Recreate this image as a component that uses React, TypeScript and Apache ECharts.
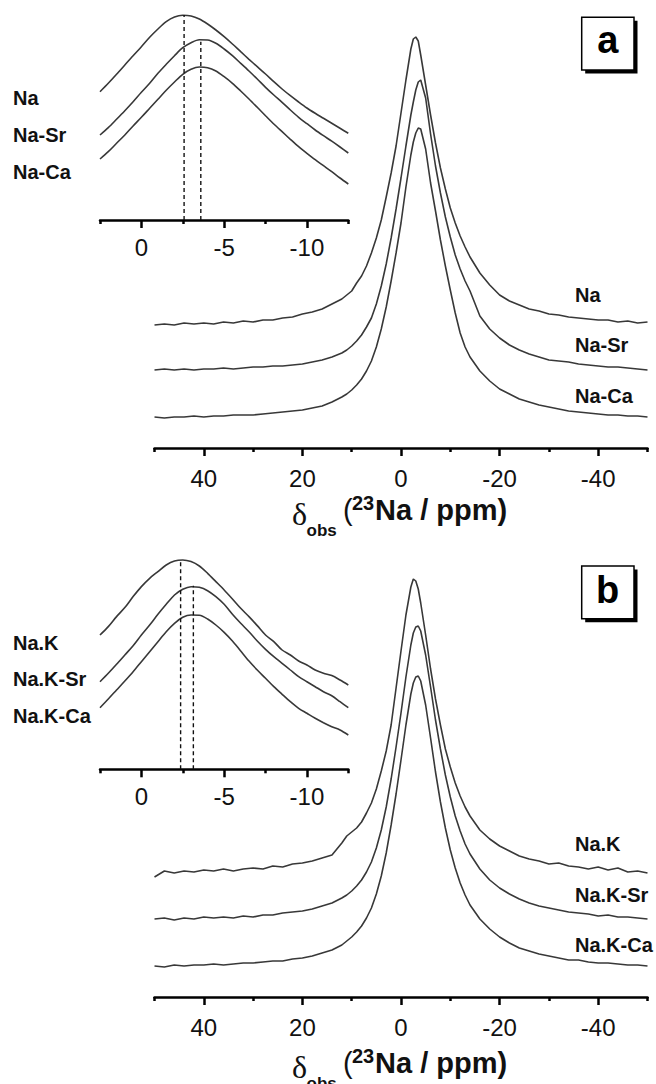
import React, { useEffect, useRef } from "react";
import * as echarts from "echarts";

// chemical shift positions (ppm) of the main spectra
const XM = [50,48,46,44,42,40,38,36,34,32,30,28,26,24,22,20,18,16,14,12,11,10,9,8,7,6,5,4,3,2,1,0,-1,-2,-2.5,-3,-3.5,-4,-5,-6,-7,-8,-9,-10,-11,-12,-13,-14,-16,-18,-20,-22,-24,-26,-28,-30,-32,-34,-36,-38,-40,-42,-44,-46,-48,-50];

// panel a intensities (above each baseline)
const NA = [-2,-1,-2,0,-1,0,-1,1,0,2,1,3,3,5,6,9,11,14,19,24,28,32,40,47,57,70,85,103,126,150,177,210,243,274,284,286,282,268,238,208,180,155,134,115,100,87,76,66,50,38,28,22,18,14,12,9,8,6,5,4,3,3,1,2,0,1];
const NA_SR = [0,1,0,1,0,1,1,2,1,2,3,3,4,4,5,6,8,10,13,17,20,24,29,35,43,52,66,84,106,132,161,192,224,255,268,280,288,290,272,236,204,177,153,133,115,101,89,79,54,41,32,25,20,16,13,10,9,8,6,5,4,3,3,2,1,0];
const NA_CA = [0,-1,0,0,1,0,1,1,2,2,2,3,4,5,6,7,9,11,15,20,23,27,32,38,46,56,70,88,110,136,164,194,230,262,275,284,289,288,268,234,206,177,151,127,104,84,70,60,46,36,28,23,18,15,12,10,8,6,5,4,3,2,2,1,1,0];
// panel b intensities
const NAK = [-4,2,0,2,1,3,2,4,2,4,5,4,7,6,9,10,12,15,18,30,37,41,45,51,60,70,84,102,122,148,185,222,258,286,294,292,284,270,238,204,174,148,124,106,90,77,66,57,43,34,27,22,17,14,12,9,10,7,6,4,6,3,5,1,2,0];
const NAK_SR = [0,1,-1,1,0,2,1,2,1,3,2,4,4,6,7,8,10,13,16,21,24,28,33,39,47,57,71,89,112,140,172,206,242,274,286,292,293,288,264,232,199,170,144,122,103,88,75,65,50,39,31,25,20,16,13,11,9,7,6,5,3,4,2,2,1,0];
const NAK_CA = [0,-1,1,0,1,1,2,1,2,3,3,4,5,5,7,8,10,13,16,21,25,29,34,40,48,58,72,90,113,141,172,206,241,272,283,289,290,285,261,228,194,164,138,116,98,83,71,61,47,37,29,23,18,15,12,10,8,6,6,4,3,3,2,1,1,0];

// baselines of the stacked spectra
const OFFSETS_A = [125, 78, 31];
const OFFSETS_B = [124, 78, 31];
const NAMES_A = ["Na", "Na-Sr", "Na-Ca"];
const NAMES_B = ["Na.K", "Na.K-Sr", "Na.K-Ca"];

// inset (expanded peak region)
const XI = [2.5,2,1.5,1,0.5,0,-0.5,-1,-1.5,-2,-2.5,-3,-3.5,-4,-4.5,-5,-5.5,-6,-6.5,-7,-7.5,-8,-8.5,-9,-9.5,-10,-10.5,-11,-11.5,-12,-12.5];
const IA_NA = [128.3,136.7,145.7,155,164.3,173.3,182.7,191,198.3,203,204.7,204,201,196,190,183.3,176,168.3,160.7,153.3,146,138.3,131,124.3,118,112,106.7,101.7,96.7,91.7,86.7];
const IA_SR = [85,92.3,100.7,109.3,118.3,127.7,136.7,146.7,155.7,164.3,172.3,177.3,180.3,180,176.7,171,164.3,156.7,149,141,132.7,125,117.7,110,102.7,96.3,90,84.3,78.8,73,67];
const IA_CA = [61,68.3,76.7,85,94,102.7,111.7,120.7,129.7,138,145.7,150.7,153,152.3,149,143.3,136.7,129,121,112.7,104.3,96,88.3,80.7,73.3,66.7,60.3,54.3,48.3,42,36];
const IB_K = [134.3,142.7,152.7,161.7,172.7,182.7,191,197.7,204.3,208.3,209.3,207.7,203.3,196,187.7,179.3,170.3,161,152.7,143.7,134.3,127.7,119.3,114.3,108.3,104.3,99.3,96,93.7,89.3,84.3];
const IB_SR = [87.6,96,105,114.3,123.6,134.3,144.3,155,165,174.3,180,182.6,182,178.6,172.6,165,155,146,137.6,128.3,120,112.6,106,99.3,92.6,87.6,82.6,77.6,73.6,67.6,61.6];
const IB_CA = [61.6,70.3,79.3,88.3,97.6,107.6,117.6,127.6,137.6,146,152,154.3,154,150.3,144.3,137,128.3,118.3,108.3,99.3,91,82.6,75,67.6,61,56,51,46.6,42.6,39.3,34.3];

// peak markers in insets: [ppm, top]
const MARK_A = [[-2.58, 205], [-3.59, 178.3]];
const MARK_B = [[-2.37, 209], [-3.14, 183.6]];

// axis ticks
const MAIN_MAJOR = [40, 20, 0, -20, -40];
const MAIN_MINOR = [50, 30, 10, -10, -30, -50];
const INSET_MAJOR = [0, -5, -10];
const INSET_MINOR = [2.5, -2.5, -7.5, -12.5];

const FONT = "Liberation Sans, Arial, sans-serif";
const LINE = "#383838";

function majorAxis(gridIndex: number, min: number, max: number, majors: number[], lw: number, tickLen: number, margin: number) {
  return {
    type: "value", gridIndex, min, max, inverse: true, position: "bottom",
    axisLine: { show: true, onZero: false, lineStyle: { color: "#000", width: lw } },
    axisTick: { show: true, customValues: majors, length: tickLen, lineStyle: { color: "#000", width: lw } },
    axisLabel: { show: true, customValues: majors, margin, fontSize: 24, fontFamily: FONT, color: "#111", formatter: (v: number) => String(v) },
    splitLine: { show: false },
  };
}
function minorAxis(gridIndex: number, min: number, max: number, minors: number[], lw: number, tickLen: number) {
  return {
    type: "value", gridIndex, min, max, inverse: true, position: "bottom",
    axisLine: { show: false, onZero: false },
    axisTick: { show: true, customValues: minors, length: tickLen, lineStyle: { color: "#000", width: lw } },
    axisLabel: { show: false },
    splitLine: { show: false },
  };
}

function spec(xIdx: number, yIdx: number, xs: number[], ys: number[], offset: number, smooth: number | boolean) {
  return {
    type: "line", xAxisIndex: xIdx, yAxisIndex: yIdx, silent: true, symbol: "none", smooth,
    lineStyle: { color: LINE, width: 1.6 },
    data: xs.map((x, i) => [x, offset + ys[i]]),
  };
}
function dash(xIdx: number, yIdx: number, m: number[]) {
  return {
    type: "line", xAxisIndex: xIdx, yAxisIndex: yIdx, silent: true, symbol: "none",
    lineStyle: { color: "#111", width: 1.4, type: [4, 3] },
    data: [[m[0], 0], [m[0], m[1]]],
  };
}

function label(text: string, x: number, y: number, size = 20) {
  return { type: "text", x, y, style: { text, fill: "#111", font: `bold ${size}px ${FONT}`, verticalAlign: "middle", align: "left" } };
}

function box(letter: string, x: number, y: number, ty: number) {
  return [
    { type: "rect", shape: { x: x + 3.5, y: y + 3.5, width: 52.3, height: 52.7 }, style: { fill: "#000" } },
    { type: "rect", shape: { x, y, width: 52.3, height: 52.7 }, style: { fill: "#fff", stroke: "#000", lineWidth: 1.5 } },
    { type: "text", x: x + 26, y: ty, style: { text: letter, fill: "#000", font: `bold 38px ${FONT}`, align: "center", verticalAlign: "middle" } },
  ];
}

function title(dy: number) {
  return [
    { type: "text", x: 292, y: 514 + dy, style: { text: "δ", fill: "#111", font: `32px Liberation Serif, serif`, verticalAlign: "middle" } },
    { type: "text", x: 306.5, y: 530 + dy, style: { text: "obs", fill: "#111", font: `bold 17px ${FONT}`, verticalAlign: "middle" } },
    { type: "text", x: 343, y: 510 + dy, style: { text: "(", fill: "#111", font: `29px ${FONT}`, verticalAlign: "middle" } },
    { type: "text", x: 352, y: 503 + dy, style: { text: "23", fill: "#111", font: `bold 20px ${FONT}`, verticalAlign: "middle" } },
    { type: "text", x: 375, y: 510 + dy, style: { text: "Na / ppm)", fill: "#111", font: `bold 29px ${FONT}`, verticalAlign: "middle" } },
  ];
}

export default function App() {
  const ref = useRef<HTMLDivElement>(null);
  useEffect(() => {
    const chart = echarts.init(ref.current!, null, { renderer: "svg" });
    const option: any = {
      animation: false,
      backgroundColor: "#fff",
      grid: [
        { left: 154.5, top: 0, width: 493, height: 448 },
        { left: 100, top: 0, width: 248.3, height: 220 },
        { left: 154.5, top: 549, width: 493, height: 448 },
        { left: 100, top: 549.3, width: 248.3, height: 220 },
      ],
      xAxis: [
        majorAxis(0, -50, 50, MAIN_MAJOR, 2.5, 8, 18),
        minorAxis(0, -50, 50, MAIN_MINOR, 2.5, 4),
        majorAxis(1, -12.5, 2.5, INSET_MAJOR, 2.5, 8, 15),
        minorAxis(1, -12.5, 2.5, INSET_MINOR, 2.5, 4),
        majorAxis(2, -50, 50, MAIN_MAJOR, 2.5, 8, 18),
        minorAxis(2, -50, 50, MAIN_MINOR, 2.5, 4),
        majorAxis(3, -12.5, 2.5, INSET_MAJOR, 2.5, 8, 15),
        minorAxis(3, -12.5, 2.5, INSET_MINOR, 2.5, 4),
      ],
      yAxis: [
        { type: "value", gridIndex: 0, min: 0, max: 448, show: false },
        { type: "value", gridIndex: 1, min: 0, max: 220, show: false },
        { type: "value", gridIndex: 2, min: 0, max: 448, show: false },
        { type: "value", gridIndex: 3, min: 0, max: 220, show: false },
      ],
      series: [
        spec(0, 0, XM, NA, OFFSETS_A[0], false),
        spec(0, 0, XM, NA_SR, OFFSETS_A[1], false),
        spec(0, 0, XM, NA_CA, OFFSETS_A[2], false),
        spec(2, 1, XI, IA_NA, 0, 0.3),
        spec(2, 1, XI, IA_SR, 0, 0.3),
        spec(2, 1, XI, IA_CA, 0, 0.3),
        dash(2, 1, MARK_A[0]),
        dash(2, 1, MARK_A[1]),
        spec(4, 2, XM, NAK, OFFSETS_B[0], false),
        spec(4, 2, XM, NAK_SR, OFFSETS_B[1], false),
        spec(4, 2, XM, NAK_CA, OFFSETS_B[2], false),
        spec(6, 3, XI, IB_K, 0, 0.3),
        spec(6, 3, XI, IB_SR, 0, 0.3),
        spec(6, 3, XI, IB_CA, 0, 0.3),
        dash(6, 3, MARK_B[0]),
        dash(6, 3, MARK_B[1]),
      ],
      graphic: [
        label(NAMES_A[0], 575, 294.5),
        label(NAMES_A[1], 575, 345),
        label(NAMES_A[2], 575, 395.8),
        label(NAMES_A[0], 13, 97.5),
        label(NAMES_A[1], 13, 135),
        label(NAMES_A[2], 13, 171.7),
        label(NAMES_B[0], 575, 844),
        label(NAMES_B[1], 575, 895),
        label(NAMES_B[2], 575, 945),
        label(NAMES_B[0], 13, 642.5),
        label(NAMES_B[1], 13, 679),
        label(NAMES_B[2], 13, 715.8),
        ...box("a", 581.7, 17.3, 39.5),
        ...box("b", 581.7, 566, 590),
        ...title(0),
        ...title(553),
      ],
    };
    chart.setOption(option);
    return () => chart.dispose();
  }, []);
  return <div ref={ref} style={{ position: "absolute", left: 0, top: 0, width: 656, height: 1084, background: "#fff" }} />;
}
